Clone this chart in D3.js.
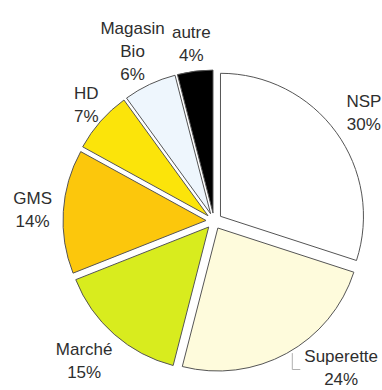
<!DOCTYPE html>
<html>
<head>
<meta charset="utf-8">
<script src="https://cdn.jsdelivr.net/npm/d3@7"></script>
<style>
  html, body { margin: 0; padding: 0; background: #fff; }
  svg text { font-family: "Liberation Sans", Arial, sans-serif; font-size: 17px; fill: #2e2e2e; letter-spacing: 0px; }
</style>
</head>
<body>
<div id="chart"></div>
<script>
// chart values
var names = [["NSP"], ["Superette"], ["Marché"], ["GMS"], ["HD"], ["Magasin", "Bio"], ["autre"]];
var shares = [30, 24, 15, 14, 7, 6, 4];
var fills = ["#ffffff", "#fefbdc", "#d8ec1e", "#fcc70c", "#fbe40a", "#eef6fd", "#000000"];

var w = 382, h = 390;
var cx = 214, cy = 221;
var radius = 143;
var explode = 8;
var lineHeight = 23;
var capHeight = 12;

// labels sit on a slightly tilted oval around the pie
function labelGap(a) { return 163 + 5 * Math.sin(2 * a); }

var svg = d3.select("#chart")
    .append("svg")
    .attr("width", w)
    .attr("height", h);

var pie = d3.pie().sort(null).value(function(d) { return d; });
var arc = d3.arc().innerRadius(0).outerRadius(radius);
var slices = pie(shares);

function mid(d) { return (d.startAngle + d.endAngle) / 2; }

var g = svg.append("g").attr("transform", "translate(" + cx + "," + cy + ")");

g.selectAll(".slice")
    .data(slices)
    .enter()
    .append("path")
    .attr("class", "slice")
    .attr("transform", function(d) {
        var a = mid(d);
        return "translate(" + (explode * Math.sin(a)) + "," + (-explode * Math.cos(a)) + ")";
    })
    .attr("d", arc)
    .attr("fill", function(d, i) { return fills[i]; })
    .attr("stroke", "#555")
    .attr("stroke-width", 1);

// labels: block pushed outward from the slice mid-angle; slid along a circle if it falls off the page
var labels = g.selectAll(".label")
    .data(slices)
    .enter()
    .append("g")
    .attr("class", "label");

labels.each(function(d, i) {
    var lines = names[i].concat([d.value + "%"]);
    var sel = d3.select(this);
    var bh = (lines.length - 1) * lineHeight + capHeight;
    sel.selectAll("text")
        .data(lines)
        .enter()
        .append("text")
        .attr("text-anchor", "middle")
        .attr("x", 0)
        .attr("y", function(t, k) { return -bh / 2 + capHeight + k * lineHeight; })
        .text(function(t) { return t; });
    var bw = sel.node().getBBox().width;

    var a = mid(d);
    var sx = Math.sin(a), sy = -Math.cos(a);
    var gap = labelGap(a);
    var x = gap * sx + bw / 2 * sx;
    var y = gap * sy + bh / 2 * sy;
    var maxY = h - cy - bh / 2 - 5;
    var moved = false;
    if (y > maxY) {
        var r2 = 194;
        a = Math.acos(-maxY / r2);
        x = r2 * Math.sin(a);
        y = maxY;
        moved = true;
    }
    sel.attr("transform", "translate(" + x + "," + y + ")");

    if (moved) {
        // leader from the slice edge down to the label
        var footX = -bw / 2 - 12;
        var ox = explode * Math.sin(mid(d)), oy = -explode * Math.cos(mid(d));
        var ang = Math.PI - Math.asin((footX + x - ox) / radius);
        var startY = oy - radius * Math.cos(ang) - y;
        sel.insert("path", "text")
            .attr("d", "M" + footX + "," + (startY + 3) + "V" + 2 + "H" + (footX + 8))
            .attr("fill", "none")
            .attr("stroke", "#b0b0b0")
            .attr("stroke-width", 1);
    }
});
</script>
</body>
</html>
